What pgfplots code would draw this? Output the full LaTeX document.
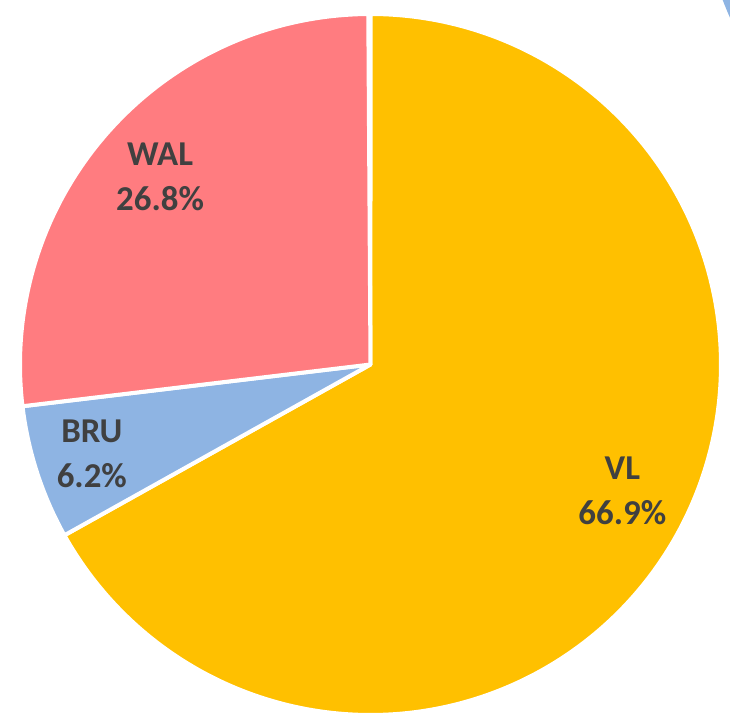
\documentclass[border=0pt]{standalone}
\usepackage{pgfplots}
\pgfplotsset{compat=1.18}
\usepgfplotslibrary{polar}
\usepackage{fontspec}
\setmainfont{Carlito}
\definecolor{cVL}{HTML}{FFC000}
\definecolor{cBRU}{HTML}{8EB4E3}
\definecolor{cWAL}{HTML}{FF7C80}
\definecolor{ctxt}{HTML}{404040}
% shares in percent
\def\vVL{66.9}
\def\vBRU{6.2}
\def\vWAL{26.8}
\begin{document}
\begin{tikzpicture}
\path[use as bounding box] (-370.5bp,-356.5bp) rectangle (359.5bp,364.5bp);
% edge of a neighbouring chart peeking in at the top right corner
\begin{scope}
\clip (-370.5bp,-356.5bp) rectangle (359.5bp,364.5bp);
\fill[cBRU] (679.4bp,489bp) circle (350bp);
\end{scope}
\pgfmathsetmacro{\aA}{90}
\pgfmathsetmacro{\aB}{90-\vVL*3.6}
\pgfmathsetmacro{\aC}{\aB-\vBRU*3.6}
\pgfmathsetmacro{\aD}{\aC-\vWAL*3.6}
\begin{polaraxis}[
  at={(0,0)}, anchor=center,
  width=701bp, height=701bp, scale only axis,
  ymin=0, ymax=1, hide axis, clip=false,
]
\addplot[fill=cVL, draw=white, line width=4bp, line join=round, domain=\aB:\aA, samples=240] {1} -- (axis cs:0,0) -- cycle;
\addplot[fill=cBRU, draw=white, line width=4bp, line join=round, domain=\aC:\aB, samples=40] {1} -- (axis cs:0,0) -- cycle;
\addplot[fill=cWAL, draw=white, line width=4bp, line join=round, domain=\aD:\aC, samples=120] {1} -- (axis cs:0,0) -- cycle;
\node[align=center, text=ctxt, font=\fontsize{35}{45}\selectfont\bfseries] at (axis cs:-26.66,0.804) {VL\\66.9\%};
\node[align=center, text=ctxt, font=\fontsize{35}{45}\selectfont\bfseries] at (axis cs:197.8,0.835) {BRU\\6.2\%};
\node[align=center, text=ctxt, font=\fontsize{35}{45}\selectfont\bfseries] at (axis cs:138.3,0.804) {WAL\\26.8\%};
\end{polaraxis}
\end{tikzpicture}
\end{document}
